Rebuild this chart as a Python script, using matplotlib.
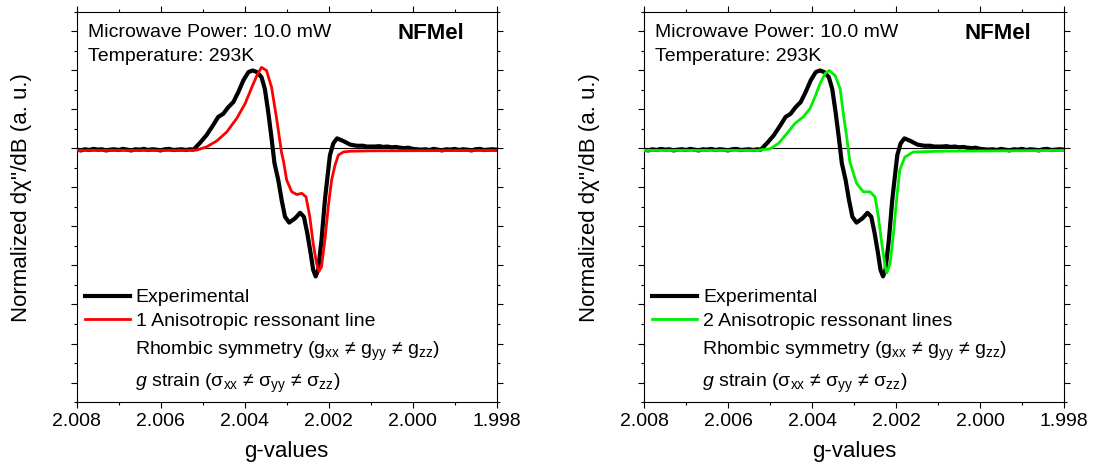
import matplotlib
matplotlib.use("Agg")
from matplotlib import pyplot as plt
from matplotlib.ticker import MultipleLocator, FormatStrFormatter

plt.rcParams['font.family'] = ['Liberation Sans', 'DejaVu Sans']
plt.rcParams['mathtext.fontset'] = 'custom'
plt.rcParams['mathtext.rm'] = 'Liberation Sans'
plt.rcParams['mathtext.it'] = 'Liberation Sans:italic'
plt.rcParams['mathtext.bf'] = 'Liberation Sans:bold'
plt.rcParams['mathtext.default'] = 'regular'

# experimental EPR derivative spectrum (same for both panels)
g_exp = [2.0080, 2.0079, 2.0078, 2.0077, 2.0076, 2.0075, 2.0074, 2.0073, 2.0072, 2.0071,
         2.0070, 2.0069, 2.0068, 2.0067, 2.0066, 2.0065, 2.0064, 2.0063, 2.0062, 2.0061,
         2.0060, 2.0059, 2.0058, 2.0057, 2.0056, 2.0055, 2.0054, 2.0053,
         2.00522, 2.00506, 2.00491, 2.00475, 2.00463, 2.00451, 2.00439, 2.00427, 2.00415,
         2.00403, 2.00391, 2.00381, 2.00371, 2.00360, 2.00352, 2.00344, 2.00336, 2.00329,
         2.00320, 2.00312, 2.00304, 2.00294, 2.00280, 2.00268, 2.00259, 2.00251, 2.00243,
         2.00237, 2.00231, 2.00225, 2.00217, 2.00209, 2.00201, 2.00197, 2.00189, 2.00180,
         2.00165, 2.00149, 2.00133, 2.00118, 2.00110,
         2.0010, 2.0009, 2.0008, 2.0007, 2.0006, 2.0005, 2.0004, 2.0003, 2.0002, 2.0001,
         2.0000, 1.9999, 1.9998, 1.9997, 1.9996, 1.9995, 1.9994, 1.9993, 1.9992, 1.9991,
         1.9990, 1.9989, 1.9988, 1.9987, 1.9986, 1.9985, 1.9984, 1.9983, 1.9982, 1.9981,
         1.9980]
y_exp = [-0.03, -0.05, -0.02, -0.04, -0.01, -0.03, -0.02, -0.05, -0.03, -0.02,
         -0.04, -0.01, -0.03, -0.05, -0.02, -0.03, -0.01, -0.04, -0.02, -0.03,
         -0.05, -0.02, -0.01, -0.04, -0.03, -0.02, -0.04, -0.02,
         -0.03, 0.15, 0.34, 0.60, 0.81, 0.89, 1.06, 1.19, 1.45,
         1.75, 1.96, 2.00, 1.96, 1.83, 1.53, 0.94, 0.26, -0.38,
         -0.81, -1.32, -1.75, -1.90, -1.79, -1.65, -1.75, -2.17, -2.68,
         -3.11, -3.28, -3.11, -2.34, -1.32, -0.55, -0.17, 0.13, 0.26,
         0.19, 0.10, 0.07, 0.07, 0.05,
         0.05, 0.05, 0.06, 0.04, 0.05, 0.03, 0.04, 0.02, 0.01, 0.02,
         -0.01, -0.02, -0.03, -0.02, -0.04, -0.01, -0.03, -0.05, -0.02, -0.03,
         -0.01, -0.04, -0.02, -0.03, -0.05, -0.02, -0.01, -0.04, -0.03, -0.02,
         -0.03]

# simulation with one anisotropic resonant line
g_sim1 = [2.0080, 2.0060, 2.0054, 2.00514, 2.00491, 2.00467, 2.00443, 2.00419, 2.00399,
          2.00383, 2.00371, 2.00360, 2.00348, 2.00336, 2.00324, 2.00312, 2.00308, 2.00300,
          2.00288, 2.00276, 2.00264, 2.00254, 2.00245, 2.00237, 2.00229, 2.00223, 2.00217,
          2.00209, 2.00201, 2.00193, 2.00185, 2.00177, 2.00165, 2.00149, 2.0010, 1.9980]
y_sim1 = [-0.05, -0.05, -0.05, -0.04, 0.04, 0.19, 0.42, 0.77, 1.15,
          1.57, 1.87, 2.08, 2.00, 1.57, 0.77, -0.12, -0.30, -0.81,
          -1.11, -1.18, -1.15, -1.24, -1.75, -2.43, -2.94, -3.15, -3.03,
          -2.34, -1.49, -0.81, -0.43, -0.17, -0.09, -0.07, -0.06, -0.05]

# simulation with two anisotropic resonant lines
g_sim2 = [2.0080, 2.0060, 2.0053, 2.00519, 2.00500, 2.00480, 2.00460, 2.00441, 2.00421,
          2.00405, 2.00393, 2.00381, 2.00369, 2.00359, 2.00345, 2.00333, 2.00326, 2.00317,
          2.00310, 2.00294, 2.00278, 2.00262, 2.00250, 2.00242, 2.00234, 2.00226, 2.00222,
          2.00214, 2.00206, 2.00198, 2.00191, 2.00179, 2.00159, 2.00095, 1.9980]
y_sim2 = [-0.05, -0.05, -0.05, -0.03, -0.01, 0.13, 0.38, 0.64, 0.81,
          1.02, 1.32, 1.66, 1.92, 2.00, 1.87, 1.53, 0.94, 0.26,
          -0.34, -0.89, -1.11, -1.11, -1.24, -1.75, -2.43, -3.03, -3.19,
          -2.94, -2.17, -1.24, -0.55, -0.22, -0.09, -0.07, -0.05]

x_ticks = [2.008, 2.006, 2.004, 2.002, 2.000, 1.998]

panels = [
    (0.0701, g_sim1, y_sim1, '#ff0000', '1 Anisotropic ressonant line'),
    (0.5887, g_sim2, y_sim2, '#00ee00', '2 Anisotropic ressonant lines'),
]

fig = plt.figure(figsize=(10.94, 4.72), dpi=100)

for left, g_sim, y_sim, col, sim_label in panels:
    ax = fig.add_axes([left, 0.1483, 0.3839, 0.8263])
    ax.axhline(0, color='black', lw=0.8, zorder=1)
    ax.plot(g_exp, y_exp, color='black', lw=3.0, solid_joinstyle='round', label='Experimental', zorder=2)
    ax.plot(g_sim, y_sim, color=col, lw=2.0, solid_joinstyle='round', label=sim_label, zorder=3)

    ax.set_xlim(2.008, 1.998)
    ax.set_ylim(-6.5, 3.5)
    ax.set_xticks(x_ticks)
    ax.xaxis.set_minor_locator(MultipleLocator(0.001))
    ax.xaxis.set_major_formatter(FormatStrFormatter('%.3f'))
    ax.yaxis.set_major_locator(MultipleLocator(1))
    ax.yaxis.set_minor_locator(MultipleLocator(0.5))
    ax.tick_params(which='both', direction='out', top=True, right=True, width=0.8,
                   labelleft=False, labelsize=14, pad=3.6)
    ax.tick_params(which='major', length=4.3)
    ax.tick_params(which='minor', length=2.4)
    for sp in ax.spines.values():
        sp.set_linewidth(0.8)

    ax.set_xlabel('g-values', fontsize=16, labelpad=8)
    fig.text(left - 54.7 / 1094, 0.5816, "Normalized d\u03c7''/dB (a. u.)", rotation=90,
             ha='center', va='center', fontsize=16)

    ax.text(0.026, 0.935, 'Microwave Power: 10.0 mW', transform=ax.transAxes, fontsize=14, va='baseline')
    ax.text(0.026, 0.874, 'Temperature: 293K', transform=ax.transAxes, fontsize=14, va='baseline')
    ax.text(0.922, 0.930, 'NFMel', transform=ax.transAxes, fontsize=16, fontweight='bold',
            ha='right', va='baseline')

    ax.legend(loc='center left', bbox_to_anchor=(0.02, 0.238), frameon=False, fontsize=14,
              handlelength=2.3, handletextpad=0.3, labelspacing=0.28, borderpad=0, borderaxespad=0)
    ax.text(0.139, 0.1205, 'Rhombic symmetry (g$_{xx}$ \u2260 g$_{yy}$ \u2260 g$_{zz}$)',
            transform=ax.transAxes, fontsize=14, va='baseline')
    ax.text(0.139, 0.039, '$\\mathit{g}$ strain (\u03c3$_{xx}$ \u2260 \u03c3$_{yy}$ \u2260 \u03c3$_{zz}$)',
            transform=ax.transAxes, fontsize=14, va='baseline')

fig.savefig('out.png', dpi=100)
